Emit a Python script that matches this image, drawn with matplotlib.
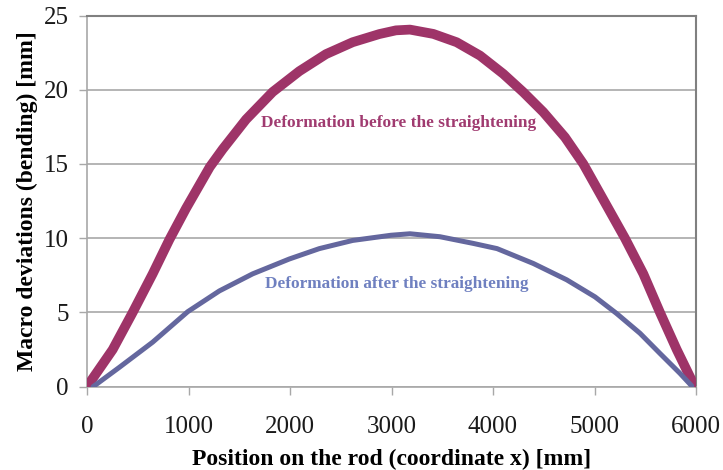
import matplotlib
matplotlib.use("Agg")
import matplotlib.pyplot as plt

# Data
red_x = [0, 253, 450, 647, 811, 975, 1210, 1337, 1567, 1829, 2092, 2355,
         2617, 2880, 3044, 3182, 3412, 3642, 3872, 4101, 4298, 4495, 4709,
         4890, 5087, 5300, 5481, 5645, 5810, 5974]
red_y = [0.0, 2.5, 5.0, 7.6, 9.9, 12.0, 14.8, 16.0, 18.0, 19.85, 21.25, 22.4,
         23.2, 23.75, 24.0, 24.05, 23.76, 23.2, 22.3, 21.07, 19.84, 18.5, 16.8,
         15.0, 12.6, 10.0, 7.6, 5.0, 2.5, 0.2]

blue_x = [60, 318, 647, 992, 1304, 1632, 1993, 2289, 2617, 2995, 3182, 3478,
          3806, 4040, 4397, 4726, 5005, 5218, 5448, 5645, 5842, 5958]
blue_y = [0.0, 1.3, 3.0, 5.05, 6.45, 7.6, 8.6, 9.3, 9.85, 10.2, 10.3, 10.1,
          9.65, 9.3, 8.3, 7.2, 6.05, 4.93, 3.6, 2.24, 0.9, 0.05]

x_ticks = [0, 1000, 2000, 3000, 4000, 5000, 6000]
y_ticks = [0, 5, 10, 15, 20, 25]

label_before = "Deformation before the straightening"
label_after = "Deformation after the straightening"

plt.rcParams['font.family'] = ['Liberation Serif', 'DejaVu Serif']

fig = plt.figure(figsize=(7.23, 4.70), dpi=100)
ax = fig.add_axes([87/723, 1 - 386.7/470, (696-87)/723, (386.7-15.5)/470])

red_c = '#9E3468'
blue_c = '#64679E'

ax.plot(red_x, red_y, color=red_c, lw=7.0, solid_capstyle='round',
        solid_joinstyle='round', zorder=3)
ax.plot(blue_x, blue_y, color=blue_c, lw=3.6, solid_capstyle='round',
        solid_joinstyle='round', zorder=3)

ax.text(3074, 17.73, label_before, color='#A03B70', fontsize=12.4,
        fontweight='bold', ha='center', va='center', zorder=4)
ax.text(3054, 6.95, label_after, color='#6F80C0', fontsize=12.4,
        fontweight='bold', ha='center', va='center', zorder=4)

ax.set_xlim(0, 6000)
ax.set_ylim(0, 25)
ax.set_xticks(x_ticks)
ax.set_yticks(y_ticks)
ax.set_xticklabels([str(v) for v in x_ticks])
ax.set_yticklabels([str(v) for v in y_ticks])

ax.yaxis.grid(True, color='#A8A8A8', lw=1.2, zorder=0)
ax.set_axisbelow(True)

for s in ['left', 'bottom']:
    ax.spines[s].set_color('#A8A8A8')
    ax.spines[s].set_linewidth(1.2)
for s in ['top', 'right']:
    ax.spines[s].set_color('#808080')
    ax.spines[s].set_linewidth(1.5)

ax.tick_params(axis='x', direction='out', length=6, width=1.0, color='#A8A8A8',
               labelsize=18, pad=15, labelcolor='#1a1a1a')
ax.tick_params(axis='y', direction='out', length=6, width=1.0, color='#A8A8A8',
               labelsize=18, pad=7, labelcolor='#1a1a1a')

ax.set_xlabel("Position on the rod (coordinate x) [mm]", fontsize=17,
              fontweight='bold', labelpad=8)
ax.set_ylabel("Macro deviations (bending) [mm]", fontsize=17,
              fontweight='bold', labelpad=4)

fig.savefig("out.png", dpi=100)
